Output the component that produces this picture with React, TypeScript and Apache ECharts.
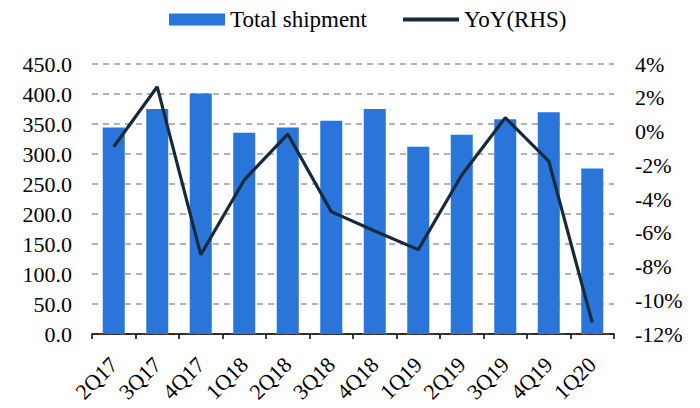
import React, { useEffect, useRef } from "react";
import * as echarts from "echarts";

const categories = ["2Q17", "3Q17", "4Q17", "1Q18", "2Q18", "3Q18", "4Q18", "1Q19", "2Q19", "3Q19", "4Q19", "1Q20"];
const shipment = [344, 375, 401, 335.5, 344, 355.5, 375, 312, 332, 358, 369.5, 276];
const yoy = [-0.9, 2.65, -7.3, -2.87, -0.15, -4.75, -5.9, -7.0, -2.58, 0.82, -1.75, -11.33];

const FONT = "Liberation Serif";

export default function App() {
  const ref = useRef<HTMLDivElement>(null);
  useEffect(() => {
    if (!ref.current) return;
    const chart = echarts.init(ref.current, null, { renderer: "svg" });
    chart.setOption({
      animation: false,
      textStyle: { fontFamily: FONT, color: "#000" },
      legend: {
        top: 3,
        left: 164,
        itemWidth: 56,
        itemHeight: 12,
        itemGap: 36,
        textStyle: { fontFamily: FONT, fontSize: 23, color: "#000" },
        data: [
          { name: "Total shipment", icon: "rect" },
          { name: "YoY(RHS)", icon: "path://M0,0L56,0L56,4L0,4Z", itemStyle: { color: "#162a3c" } },
        ],
      },
      grid: { left: 92, right: 86, top: 64, bottom: 74 },
      xAxis: {
        type: "category",
        data: categories,
        axisLine: { show: true, lineStyle: { color: "#000", width: 1.5 } },
        axisTick: { show: true, alignWithLabel: false, length: 5, lineStyle: { color: "#000", width: 1.5 } },
        axisLabel: {
          rotate: 45,
          margin: 27,
          interval: 0,
          fontSize: 22,
          fontFamily: FONT,
          color: "#000",
        },
      },
      yAxis: [
        {
          type: "value",
          min: 0,
          max: 450,
          interval: 50,
          axisLine: { show: false },
          axisTick: { show: false },
          axisLabel: {
            margin: 20,
            fontSize: 22,
            fontFamily: FONT,
            color: "#000",
            formatter: (v: number) => v.toFixed(1),
          },
          splitLine: { show: true, lineStyle: { color: "#999", type: [6, 5], width: 1.5 } },
        },
        {
          type: "value",
          min: -12,
          max: 4,
          interval: 2,
          axisLine: { show: false },
          axisTick: { show: false },
          axisLabel: {
            margin: 21,
            fontSize: 22,
            fontFamily: FONT,
            color: "#000",
            formatter: (v: number) => v + "%",
          },
          splitLine: { show: false },
        },
      ],
      series: [
        {
          name: "Total shipment",
          type: "bar",
          data: shipment,
          barWidth: 22,
          itemStyle: { color: "#2a75d9" },
          yAxisIndex: 0,
        },
        {
          name: "YoY(RHS)",
          type: "line",
          data: yoy,
          yAxisIndex: 1,
          symbol: "none",
          lineStyle: { color: "#162a3c", width: 3.2 },
          itemStyle: { color: "#162a3c" },
        },
      ],
    });
    return () => chart.dispose();
  }, []);
  return <div ref={ref} style={{ width: 700, height: 408, position: "absolute", left: 0, top: 0 }} />;
}
